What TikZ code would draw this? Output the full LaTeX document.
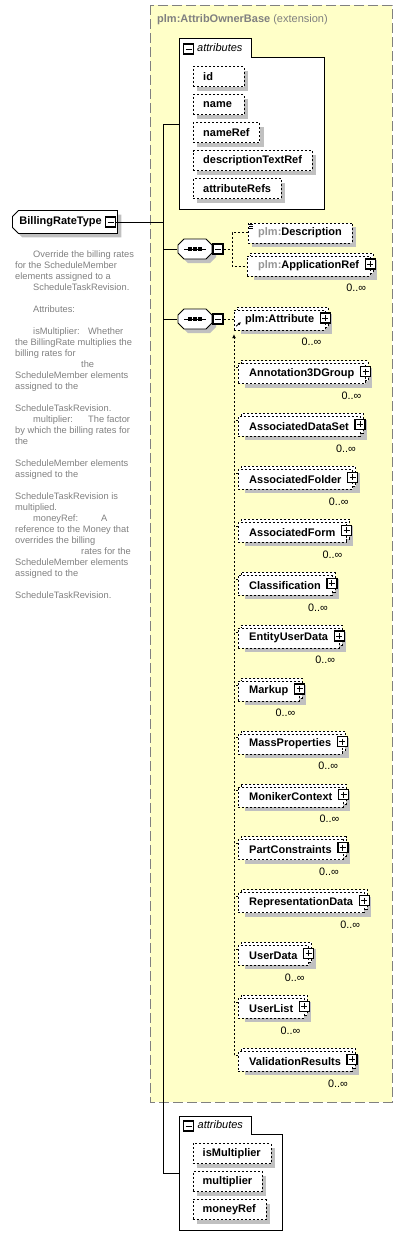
\documentclass[tikz,border=0pt]{standalone}
\usepackage{fontspec}
\setmainfont{Liberation Sans}
\usetikzlibrary{positioning,shapes.misc,shadows,arrows.meta}

\definecolor{extfill}{RGB}{255,255,200}
\definecolor{extline}{RGB}{128,128,128}
\definecolor{shadowgray}{RGB}{192,192,192}
\definecolor{doctext}{RGB}{128,128,128}
\definecolor{nsgray}{RGB}{150,150,150}

\tikzset{
  lbl/.style={font=\fontsize{11}{13}\selectfont\bfseries},
  dotline/.style={dash pattern=on 2pt off 2pt},
  conn/.style={line width=0.9pt},
  dconn/.style={line width=0.8pt, dotline},
  attrbox/.style={draw, dotline, fill=white, lbl, anchor=west, minimum height=20pt,
    inner xsep=10pt, inner ysep=0pt,
    drop shadow={shadow xshift=4pt, shadow yshift=-4pt, fill=shadowgray, opacity=1}},
  elembox/.style={draw, dotline, fill=white, lbl, anchor=west, minimum height=20pt,
    inner xsep=11pt, inner ysep=0pt},
  backbox/.style={elembox,
    drop shadow={shadow xshift=4pt, shadow yshift=-7pt, fill=shadowgray, opacity=1}},
  occurs/.style={font=\fontsize{10.8}{12}\selectfont, anchor=east, inner sep=0pt},
  togglebox/.style={draw, fill=white, line width=1.2pt, minimum size=10pt, inner sep=0pt},
  minusbox/.style={togglebox, path picture={
    \draw[line width=1pt] ([xshift=2pt]path picture bounding box.west)
      -- ([xshift=-2pt]path picture bounding box.east);}},
  plusbox/.style={togglebox, path picture={
    \draw[line width=1pt] ([xshift=2pt]path picture bounding box.west)
      -- ([xshift=-2pt]path picture bounding box.east)
      ([yshift=-2pt]path picture bounding box.north)
      -- ([yshift=2pt]path picture bounding box.south);}},
  seqnode/.style={minimum width=35pt, minimum height=20pt, inner sep=0pt},
  typebox/.style={chamfered rectangle, chamfered rectangle corners={north west,south west},
    chamfered rectangle xsep=3pt, chamfered rectangle ysep=3pt, draw, fill=white,
    line width=0.9pt, lbl, anchor=west, text width=91pt, align=left, inner xsep=4pt,
    minimum height=21pt,
    drop shadow={shadow xshift=4pt, shadow yshift=-4pt, fill=shadowgray, opacity=1}},
  doc/.style={font=\fontsize{9.3}{11}\selectfont, text=doctext, align=left, inner sep=0pt},
}

\begin{document}
\begin{tikzpicture}[x=1pt, y=-1pt]
  \useasboundingbox (0,0) rectangle (403,1248);

  % extension frame
  \draw[extline, fill=extfill, line width=1pt, dash pattern=on 10pt off 4pt]
    (150,5) rectangle (392,1102);
  \node[anchor=west, inner sep=0pt, text=extline, font=\fontsize{11}{13}\selectfont]
    (extTitle) at (157,19.5) {\textbf{plm:AttribOwnerBase} (extension)};

  % inherited attributes
  \draw[fill=white, line width=0.9pt] (179,38) -- (251,38) -- (251,57) -- (324,57)
    -- (324,209) -- (179,209) -- cycle;
  \node[minusbox] (attrAm) at (188.5,49) {};
  \node[anchor=west, inner sep=0pt, font=\fontsize{11}{13}\selectfont\itshape]
    (attrA) at (197,48) {attributes};
  \node[attrbox, text width=31pt] (idAttr) at (193,76.5) {id};
  \node[attrbox, text width=31pt] (nameAttr) at (193,104.5) {name};
  \node[attrbox] (nameRefAttr) at (193,132.5) {nameRef};
  \node[attrbox] (descTextAttr) at (193,160.5) {descriptionTextRef};
  \node[attrbox] (attrRefsAttr) at (193,188.5) {attributeRefs};
  \coordinate (attrA west) at (179,124);

  % the type
  \node[typebox] (brt) at (12,222) {BillingRateType};
  \node[minusbox] (brtm) at (110.5,222) {};
  \node[doc, anchor=north west] (brtdoc) at (15,251) {%
    \hspace*{18pt}Override the billing rates\\
    for the ScheduleMember\\
    elements assigned to a\\
    \hspace*{18pt}ScheduleTaskRevision.\\[11pt]
    \hspace*{18pt}Attributes:\\[11pt]
    \hspace*{18pt}\makebox[55pt][l]{isMultiplier:}Whether\\
    the BillingRate multiplies the\\
    billing rates for\\
    \hspace*{66pt}the\\
    ScheduleMember elements\\
    assigned to the\\[11pt]
    ScheduleTaskRevision.\\
    \hspace*{18pt}\makebox[55pt][l]{multiplier:}The factor\\
    by which the billing rates for\\
    the\\[11pt]
    ScheduleMember elements\\
    assigned to the\\[11pt]
    ScheduleTaskRevision is\\
    multiplied.\\
    \hspace*{18pt}\makebox[68pt][l]{moneyRef:}A\\
    reference to the Money that\\
    overrides the billing\\
    \hspace*{66pt}rates for the\\
    ScheduleMember elements\\
    assigned to the\\[11pt]
    ScheduleTaskRevision.};

  % spine
  \coordinate (spine top) at (163,124);
  \coordinate (spine bot) at (163,1173);
  \coordinate (attrB west) at (179,1173);
  \draw[conn] (spine top) -- (spine bot);
  \draw[conn] (spine top) -- (attrA west);
  \draw[conn] (spine bot) -- (attrB west);
  \draw[conn] (brtm.east) -- (brtm.east -| spine top);

  % sequence compositors
  \node[seqnode] (seq1) at (195,249) {};
  \node[seqnode] (seq2) at (195,319) {};
  \foreach \s in {seq1,seq2}{
    \fill[shadowgray, shift={(\s.center)}, shift={(4,4)}] (-17,-4) -- (-11,-10)
      -- (11,-10) -- (17,-4) -- (17,4) -- (11,10) -- (-11,10) -- (-17,4) -- cycle;
    \draw[fill=white, line width=0.9pt, shift={(\s.center)}] (-17,-4) -- (-11,-10)
      -- (11,-10) -- (17,-4) -- (17,4) -- (11,10) -- (-11,10) -- (-17,4) -- cycle;
    \draw[line width=0.9pt] ([xshift=-11pt]\s.center) -- ([xshift=11pt]\s.center);
    \foreach \dx in {-5,0,5}
      \fill ([xshift=\dx pt]\s.center) +(-1.6,-1.6) rectangle +(1.6,1.6);
  }
  \node[minusbox] (seq1m) at (218,249) {};
  \node[minusbox] (seq2m) at (218,319) {};
  \draw[conn] (seq1.west -| spine top) -- (seq1.west);
  \draw[conn] (seq2.west -| spine top) -- (seq2.west);

  % first sequence
  \node[attrbox] (desc) at (248,232.7) {\textcolor{nsgray}{plm:}Description};
  \foreach \k in {0,2,4}
    \draw[line width=0.6pt] ([shift={(1,2+\k)}]desc.north west) -- +(4,0);
  \node[backbox] (appref-back) at (250,263) {\phantom{plm:ApplicationRef}};
  \node[elembox] (appref) at (247,266) {\textcolor{nsgray}{plm:}ApplicationRef};
  \node[plusbox] (appref-plus) at ([yshift=2pt]appref.east) {};
  \node[occurs] (appref-occ) at ([xshift=-4pt,yshift=-12pt]appref.south east) {0..∞};
  \coordinate (seq1 fork) at (232,249);
  \draw[dconn] (seq1m.east) -- (seq1 fork);
  \draw[dconn] (desc.west) -| (seq1 fork) |- (appref.west);

  % second sequence
  \node[backbox] (attrib-back) at (237,317) {\phantom{plm:Attribute}};
  \node[elembox] (attrib) at (234,320) {plm:Attribute};
  \node[plusbox] (attrib-plus) at ([yshift=2pt]attrib.east) {};
  \node[occurs] (attrib-occ) at ([xshift=-4pt,yshift=-12pt]attrib.south east) {0..∞};
  \draw[dconn] (seq2m.east) -- (seq2m.east -| attrib.west);
  \draw[line width=0.8pt, -{Latex[length=3pt,width=3pt]}]
    ([shift={(2,-4)}]attrib.south west) -- +(5,-4);

  % substitution group
  \foreach \nm [count=\i] in {Annotation3DGroup, AssociatedDataSet, AssociatedFolder,
      AssociatedForm, Classification, EntityUserData, Markup, MassProperties,
      MonikerContext, PartConstraints, RepresentationData, UserData, UserList,
      ValidationResults}{
    \pgfmathsetmacro\yy{373.5+52.9*(\i-1)}
    \node[backbox] (m\i-back) at (241,\yy-3) {\phantom{\nm}};
    \node[elembox] (m\i) at (238,\yy) {\nm};
    \node[plusbox] (m\i-plus) at ([yshift=2pt]m\i.east) {};
    \node[occurs] (m\i-occ) at ([xshift=-4pt,yshift=-12pt]m\i.south east) {0..∞};
    \draw[dconn] ([yshift=6pt]m\i.west) -- ++(-4,0);
  }
  \coordinate (subtop) at ([yshift=-4pt]attrib.south west);
  \draw[dconn, -{Latex[length=4pt,width=4pt]}] ([yshift=6pt]m14.west) ++(-4,0) -- (subtop);

  % own attributes
  \draw[fill=white, line width=0.9pt] (179,1116) -- (251,1116) -- (251,1134) -- (282,1134)
    -- (282,1230) -- (179,1230) -- cycle;
  \node[minusbox] (attrBm) at (188.7,1126) {};
  \node[anchor=west, inner sep=0pt, font=\fontsize{11}{13}\selectfont\itshape]
    (attrB) at (197.5,1125) {attributes};
  \node[attrbox] (isMultAttr) at (192.5,1153.5) {isMultiplier};
  \node[attrbox] (multAttr) at (192.5,1181.5) {multiplier};
  \node[attrbox] (moneyRefAttr) at (192.5,1209.5) {moneyRef};
\end{tikzpicture}
\end{document}
